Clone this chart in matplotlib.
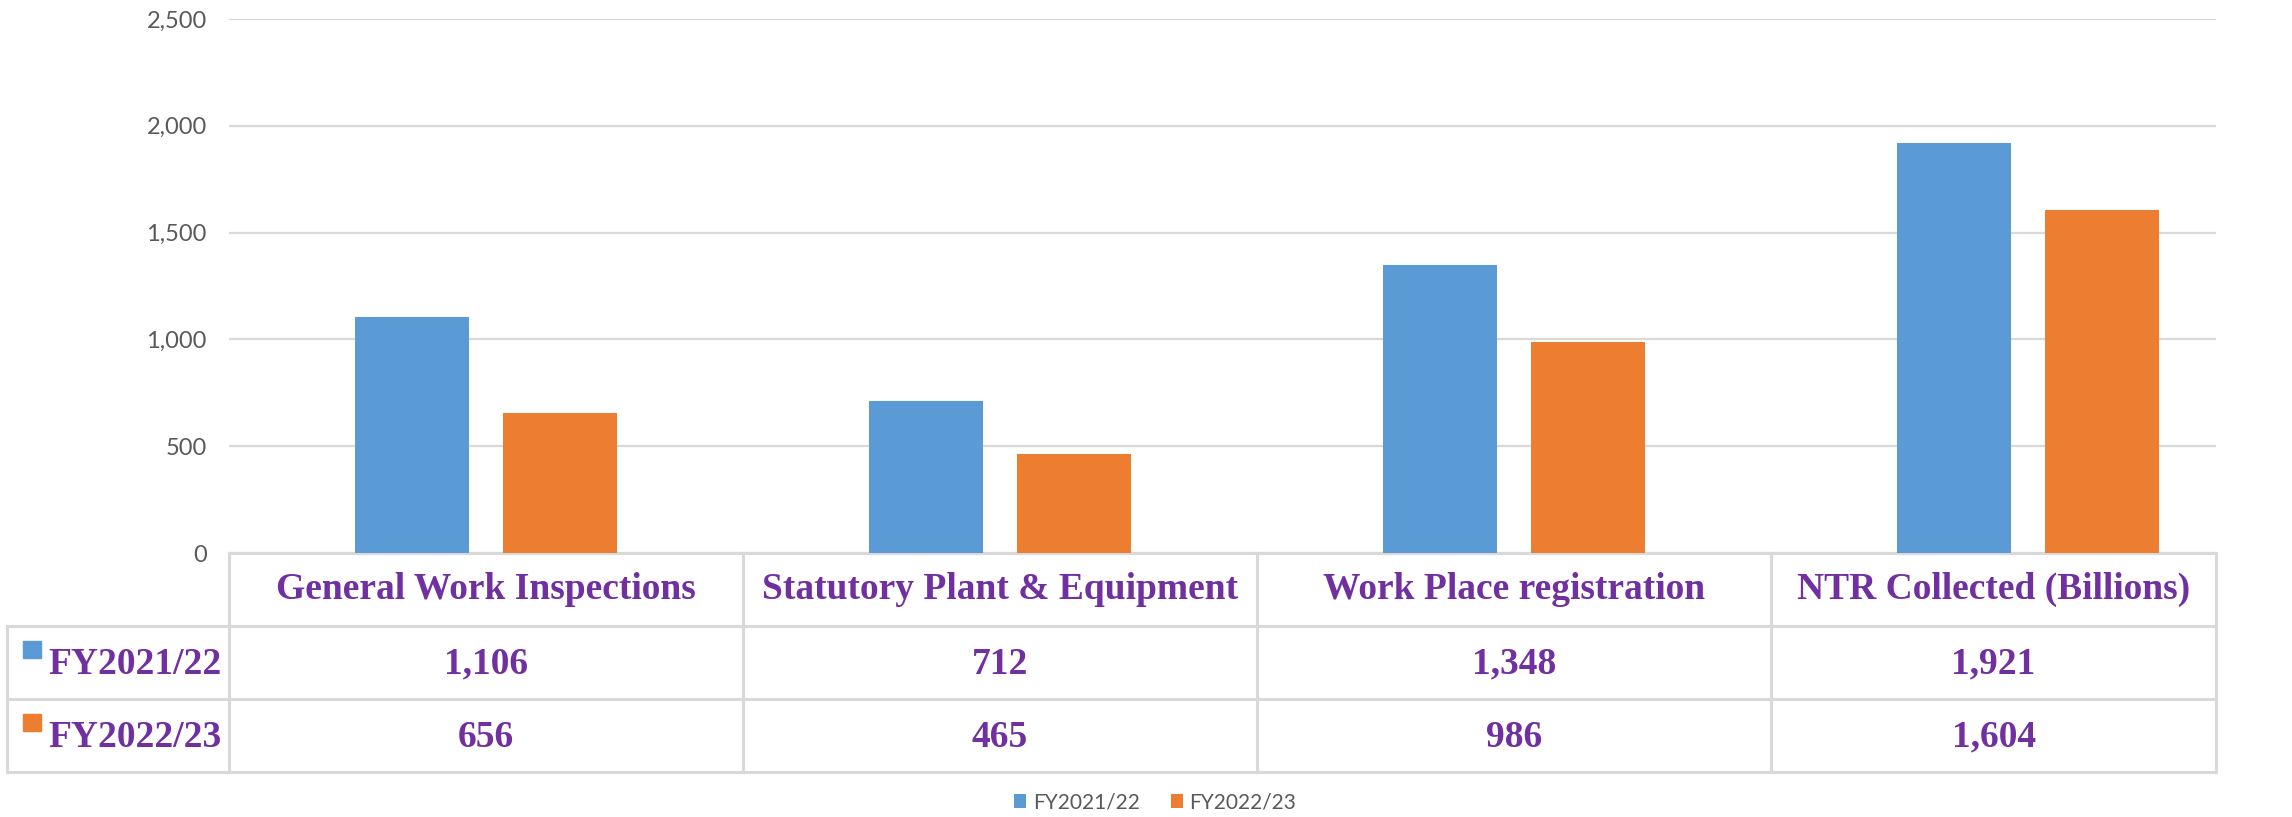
import matplotlib
matplotlib.use("Agg")
import matplotlib.pyplot as plt
import numpy as np
from matplotlib.patches import Rectangle
from matplotlib.transforms import blended_transform_factory

# ─── data ───
categories = ["General Work Inspections", "Statutory Plant & Equipment",
              "Work Place registration", "NTR Collected (Billions)"]
series_names = ["FY2021/22", "FY2022/23"]
fy2122 = [1106, 712, 1348, 1921]
fy2223 = [656, 465, 986, 1604]
yticks = [0, 500, 1000, 1500, 2000, 2500]

# ─── style ───
BLUE = "#5B9BD5"
ORANGE = "#ED7D31"
PURPLE = "#7030A0"
GRID = "#D9D9D9"
TICK = "#595959"
SERIF = ["Liberation Serif", "DejaVu Serif"]

fig = plt.figure(figsize=(22.92, 8.17), dpi=100)
ax = fig.add_axes([0.0999, 0.3231, 0.8669, 0.6536])

x = np.arange(len(categories))
w = 0.222
off = 0.144
b1 = ax.bar(x - off, fy2122, w, color=BLUE, label=series_names[0], zorder=3)
b2 = ax.bar(x + off, fy2223, w, color=ORANGE, label=series_names[1], zorder=3)

# the last category is cut off at the right edge, as in the original
XMAX = 3.365
ax.set_xlim(-0.5, XMAX)
ax.set_ylim(0, 2500)
ax.set_yticks(yticks)
ax.set_yticklabels([f"{v:,}" for v in yticks], fontsize=17, color=TICK, family="Lato")
ax.tick_params(axis="y", length=0, pad=16)
ax.tick_params(axis="x", length=0, labelbottom=False)
ax.grid(axis="y", color=GRID, linewidth=1.6, zorder=0)
for s in ax.spines.values():
    s.set_visible(False)

# ─── data table under the axes ───
tr = blended_transform_factory(ax.transData, ax.transAxes)
row_edges = [0, -0.1367, -0.2734, -0.4101]
left_edge = -0.1117
lk = dict(color=GRID, linewidth=2.2, clip_on=False, zorder=1)

# horizontal lines
ax.plot([0, 1], [0, 0], transform=ax.transAxes, **lk)
for yy in row_edges[1:]:
    ax.plot([left_edge, 1], [yy, yy], transform=ax.transAxes, **lk)
# vertical lines
col_edges = list(np.arange(len(categories)) - 0.5) + [XMAX]
for xx in col_edges:
    ax.plot([xx, xx], [0, row_edges[-1]], transform=tr, **lk)
ax.plot([left_edge, left_edge], [row_edges[1], row_edges[-1]], transform=ax.transAxes, **lk)
col_centers = [(a + b) / 2 for a, b in zip(col_edges[:-1], col_edges[1:])]

tk = dict(color=PURPLE, fontsize=27, fontweight="bold", family=SERIF,
          ha="center", va="center", clip_on=False)
hdr_y = (row_edges[0] + row_edges[1]) / 2
for cx, c in zip(col_centers, categories):
    ax.text(cx, hdr_y, c, transform=tr, **tk)

for r, (name, vals, col) in enumerate(zip(series_names, [fy2122, fy2223], [BLUE, ORANGE])):
    yc = (row_edges[r + 1] + row_edges[r + 2]) / 2
    for cx, v in zip(col_centers, vals):
        ax.text(cx, yc - 0.003, f"{v:,}", transform=tr, **tk)
    ax.text(-0.0911, yc - 0.003, name, transform=ax.transAxes,
            **{**tk, "ha": "left"})
    ax.add_patch(Rectangle((-0.1037, yc + 0.0078), 0.0091, 0.0318, transform=ax.transAxes,
                           color=col, clip_on=False))

# ─── legend ───
fig.legend(handles=[b1, b2], labels=series_names, loc="center", bbox_to_anchor=(0.504, 0.018),
           ncol=2, frameon=False, handlelength=0.6, handleheight=0.6, handletextpad=0.3,
           columnspacing=1.5, prop={"family": "Lato", "size": 15}, labelcolor=TICK)

fig.savefig("out.png", dpi=100)
